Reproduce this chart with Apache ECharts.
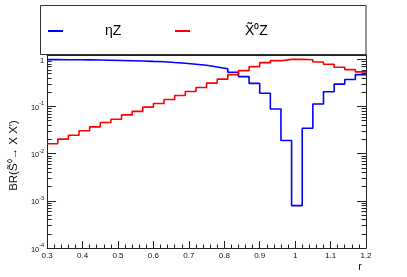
<!DOCTYPE html>
<html>
<head>
<meta charset="utf-8">
<script src="https://cdn.jsdelivr.net/npm/echarts@6/dist/echarts.min.js"></script>
<style>
html,body{margin:0;padding:0;background:#fff;}
#chart{width:407px;height:277px;}
</style>
</head>
<body>
<div id="chart"></div>
<script>
// Bin edges (r), 30 bins of width 0.03
const xEdges = [0.30,0.33,0.36,0.39,0.42,0.45,0.48,0.51,0.54,0.57,0.60,0.63,0.66,0.69,0.72,0.75,0.78,0.81,0.84,0.87,0.90,0.93,0.96,0.99,1.02,1.05,1.08,1.11,1.14,1.17,1.20];
// BR values per bin
const etaZ = [0.984,0.980,0.975,0.970,0.963,0.955,0.946,0.934,0.921,0.903,0.888,0.855,0.826,0.788,0.748,0.688,0.628,0.532,0.430,0.308,0.190,0.0886,0.019,0.00079,0.0346,0.113,0.205,0.298,0.372,0.474];
const chiZ = [0.0162,0.0203,0.0246,0.0305,0.0370,0.0456,0.0535,0.0662,0.0788,0.0967,0.116,0.141,0.171,0.208,0.252,0.313,0.379,0.474,0.575,0.699,0.848,0.935,0.995,1.0,0.98,0.877,0.785,0.679,0.604,0.540];
const xTicks = [0.3,0.4,0.5,0.6,0.7,0.8,0.9,1.0,1.1,1.2];
const yDecades = [-4,-3,-2,-1,0];
const seriesNames = ['\u03b7Z', 'X\u0303\u2070Z'];

const yMin = -4, yMax = 0.091;
const minorY = [];
yDecades.forEach(function (d) {
  for (let k = 2; k <= 9; k++) {
    const v = d + Math.log10(k);
    if (v < yMax) minorY.push(v);
  }
});

function steps(vals) {
  return xEdges.map(function (x, i) {
    return [x, Math.log10(vals[Math.min(i, vals.length - 1)])];
  });
}

const chart = echarts.init(document.getElementById('chart'), null, {renderer: 'canvas'});
const lineCol = '#222';
const font = 'Liberation Sans, Arial, sans-serif';

function yAxisDef(pos, major, showLine, labels) {
  return {
    type: 'value', position: pos, min: yMin, max: yMax, interval: 1,
    axisLine: {show: showLine, lineStyle: {color: lineCol, width: 1}},
    axisTick: {show: true, inside: true, length: major ? 9 : 4.5,
      customValues: major ? yDecades : minorY,
      lineStyle: {color: lineCol, width: 1}},
    axisLabel: labels ? {
      show: true, margin: 3, customValues: yDecades,
      fontFamily: font, color: '#111',
      formatter: function (v) {
        if (Math.abs(v) < 1e-9) return '{b|1}';
        return '{b|10}{s|' + Math.round(v) + '}';
      },
      rich: {
        b: {fontSize: 7.5, fontFamily: font, color: '#111', lineHeight: 11, verticalAlign: 'bottom'},
        s: {fontSize: 5.5, fontFamily: font, color: '#111', lineHeight: 11, verticalAlign: 'top'}
      }
    } : {show: false},
    splitLine: {show: false},
    minorTick: {show: false}
  };
}

const yAxes = [
  Object.assign(yAxisDef('left', true, true, true), {
    name: 'BR(S\u0303\u2070\u2192 X X\')', nameLocation: 'middle', nameRotate: 90, nameGap: 22,
    nameTextStyle: {fontFamily: font, fontSize: 11.5, color: '#111', padding: [0, 8, 0, 0]}
  }),
  yAxisDef('left', false, false, false),
  yAxisDef('right', true, true, false),
  yAxisDef('right', false, false, false)
];

chart.setOption({
  animation: false,
  backgroundColor: '#fff',
  grid: {left: 41, right: 41, top: 55, bottom: 29, containLabel: false},
  legend: [
    {data: [{name: seriesNames[0], textStyle: {padding: [0, 0, 0, 37]}}],
     left: 43, top: 19, itemWidth: 15, itemHeight: 2, icon: 'rect', selectedMode: false,
     textStyle: {fontFamily: font, fontSize: 14, color: '#000'}},
    {data: [{name: seriesNames[1], textStyle: {padding: [0, 0, 0, 50]}}],
     left: 170, top: 19, itemWidth: 15, itemHeight: 2, icon: 'rect', selectedMode: false,
     textStyle: {fontFamily: font, fontSize: 14, color: '#000'}}
  ],
  graphic: [{
    type: 'rect', z: -1, silent: true,
    shape: {x: 40.5, y: 5.5, width: 325.5, height: 49},
    style: {fill: '#fff', stroke: '#333', lineWidth: 1}
  }],
  xAxis: [{
    type: 'value', position: 'bottom', min: 0.3, max: 1.2, interval: 0.1,
    axisLine: {show: true, onZero: false, lineStyle: {color: lineCol, width: 1}},
    axisTick: {show: true, inside: true, length: 7, lineStyle: {color: lineCol}},
    minorTick: {show: true, splitNumber: 5, length: 3.5, lineStyle: {color: lineCol}},
    axisLabel: {show: true, margin: 4, fontSize: 8, fontFamily: font, color: '#111',
      customValues: xTicks,
      formatter: function (v) { return String(Math.round(v * 10) / 10); }},
    splitLine: {show: false}, minorSplitLine: {show: false},
    name: 'r', nameLocation: 'end', nameGap: -4,
    nameTextStyle: {fontFamily: font, fontSize: 11, color: '#111', align: 'right', verticalAlign: 'top', padding: [13, 0, 0, 0]}
  }, {
    type: 'value', position: 'top', min: 0.3, max: 1.2, interval: 0.1,
    axisLine: {show: true, onZero: false, lineStyle: {color: lineCol, width: 1}},
    axisTick: {show: false}, axisLabel: {show: false}, splitLine: {show: false}
  }],
  yAxis: yAxes,
  series: [{
    name: seriesNames[0], type: 'line', step: 'end', symbol: 'none',
    xAxisIndex: 0, yAxisIndex: 0, color: '#0000ff',
    lineStyle: {color: '#0000ff', width: 1.6},
    data: steps(etaZ)
  }, {
    name: seriesNames[1], type: 'line', step: 'end', symbol: 'none',
    xAxisIndex: 0, yAxisIndex: 0, color: '#ff0000',
    lineStyle: {color: '#ff0000', width: 1.6},
    data: steps(chiZ)
  }]
});
</script>
</body>
</html>
